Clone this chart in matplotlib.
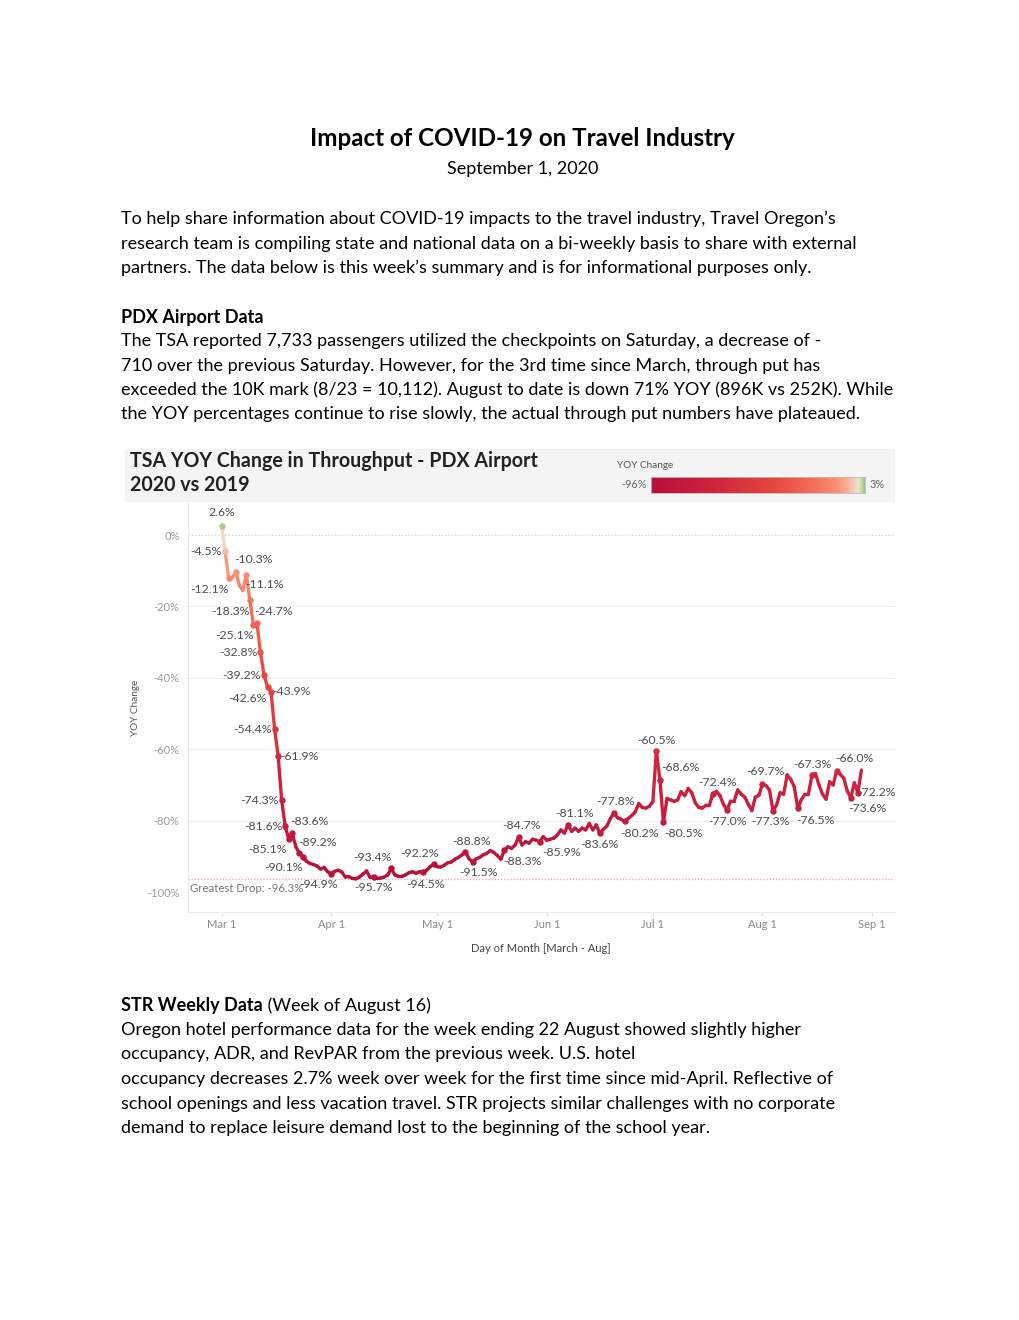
import numpy as np
import pandas as pd
import matplotlib
matplotlib.use('Agg')
import matplotlib.pyplot as plt
import matplotlib.dates as mdates
from matplotlib.collections import LineCollection
from matplotlib.colors import LinearSegmentedColormap, TwoSlopeNorm
from matplotlib.patches import Rectangle

plt.rcParams['font.family'] = ['Lato', 'DejaVu Sans']

# daily YOY change in TSA throughput at PDX, starting 1 March 2020 (%)
yoy = [
    2.6, -4.5, -12.1, -12.0, -10.3, -14.0, -15.5, -11.1, -18.3, -25.1,
    -24.7, -32.8, -39.2, -42.6, -43.9, -54.4, -61.9, -74.3, -81.6, -85.1,
    -83.6, -87.3, -89.2, -90.1, -91.4, -92.0, -92.3, -92.7, -93.6, -93.1,
    -94.3, -94.9, -94.2, -93.9, -94.4, -95.8, -95.7, -96.2, -96.3, -95.8,
    -95.0, -94.1, -95.9, -95.7, -96.2, -96.1, -95.8, -95.2, -93.4, -95.2,
    -95.6, -95.6, -95.2, -94.6, -94.3, -94.8, -94.3, -94.5, -93.9, -92.9,
    -92.2, -92.9, -93.0, -92.5, -91.8, -91.6, -90.8, -90.3, -89.6, -88.8,
    -90.7, -91.5, -90.7, -90.3, -89.6, -89.2, -88.4, -88.9, -89.8, -90.8,
    -88.3, -87.3, -87.8, -86.9, -84.7, -86.8, -85.9, -86.3, -85.2, -85.5,
    -85.9, -84.5, -85.5, -85.2, -84.9, -84.0, -82.6, -83.5, -81.1, -83.0,
    -82.1, -83.0, -82.1, -82.6, -80.8, -82.6, -81.2, -83.6, -82.4, -81.5,
    -79.4, -77.8, -79.2, -79.6, -80.2, -79.4, -78.6, -77.6, -75.2, -76.3,
    -76.5, -76.0, -74.7, -60.5, -68.6, -80.5, -73.8, -74.2, -74.6, -74.2,
    -71.9, -73.0, -71.0, -72.2, -75.0, -76.3, -76.5, -75.7, -75.7, -72.4,
    -71.8, -73.0, -75.5, -77.0, -74.5, -74.5, -71.4, -72.6, -73.4, -75.4,
    -77.2, -73.4, -72.9, -69.7, -70.2, -71.4, -77.3, -75.6, -72.2, -72.6,
    -67.2, -68.4, -70.5, -76.5, -74.1, -72.6, -72.6, -67.3, -66.8, -70.0,
    -72.6, -74.0, -69.1, -70.0, -66.0, -67.0, -68.1, -71.7, -73.6, -69.4,
    -72.2, -65.8,
]
dates = pd.date_range('2020-03-01', periods=len(yoy), freq='D')
greatest_drop = min(yoy)

# which points carry a value label (index into yoy)
labelled = [0, 1, 2, 4, 7, 8, 10, 9, 11, 12, 13, 14, 15, 16, 17, 18, 20, 19,
            22, 23, 31, 48, 43, 60, 57, 69, 71, 84, 80, 98, 90, 111, 107, 114,
            123, 124, 125, 139, 143, 153, 156, 167, 163, 174, 180, 178]

# label placement offsets in pixels (dx, dy), same order as `labelled`
label_offsets = [
    (0, 13), (-19, 0), (-19, -11), (18, 12), (18, -10), (-19, -11), (17, 12),
    (-19, -11), (-22, 0), (-23, 0), (-20, -11), (20, 0), (-22, 0), (21, 0),
    (-22, 0), (-22, 0), (17, 12), (-21, -11), (18, 11), (-19, -11),
    (-13, -11), (-19, 11), (0, -11), (-14, 11), (2, -12), (6, 11), (6, -11),
    (3, 12), (18, -11), (6, 11), (22, -11), (2, 11), (0, -11), (15, -12),
    (0, 11), (20, 12), (20, -11), (5, 11), (0, -12), (3, 12), (-3, -11),
    (0, 11), (18, -12), (18, 12), (19, 0), (17, -11),
]

month_starts = pd.date_range('2020-03-01', '2020-09-01', freq='MS')
y_ticks = [0, -20, -40, -60, -80, -100]

title_lines = ['Impact of COVID-19 on Travel Industry', 'September 1, 2020']
intro_lines = [
    'To help share information about COVID-19 impacts to the travel industry, Travel Oregon\u2019s',
    'research team is compiling state and national data on a bi-weekly basis to share with external',
    'partners. The data below is this week\u2019s summary and is for informational purposes only.',
]
pdx_heading = 'PDX Airport Data'
pdx_lines = [
    'The TSA reported 7,733 passengers utilized the checkpoints on Saturday, a decrease of -',
    '710 over the previous Saturday. However, for the 3rd time since March, through put has',
    'exceeded the 10K mark (8/23 = 10,112). August to date is down 71% YOY (896K vs 252K). While',
    'the YOY percentages continue to rise slowly, the actual through put numbers have plateaued.',
]
str_heading = 'STR Weekly Data'
str_sub = ' (Week of August 16)'
str_lines = [
    'Oregon hotel performance data for the week ending 22 August showed slightly higher',
    'occupancy, ADR, and RevPAR from the previous week. U.S. hotel',
    'occupancy decreases 2.7% week over week for the first time since mid-April. Reflective of',
    'school openings and less vacation travel. STR projects similar challenges with no corporate',
    'demand to replace leisure demand lost to the beginning of the school year.',
]

W, H = 1020, 1320
fig = plt.figure(figsize=(W / 100, H / 100), dpi=100)
fig.patch.set_facecolor('white')


def ftext(x, y, s, **kw):
    kw.setdefault('va', 'center')
    return fig.text(x / W, 1 - y / H, s, **kw)


def fbox(x0, y0, x1, y1):
    return [x0 / W, 1 - y1 / H, (x1 - x0) / W, (y1 - y0) / H]


# page text
body = 13.0
ftext(522, 138, title_lines[0], ha='center', fontsize=17.4, fontweight='bold')
ftext(523, 169, title_lines[1], ha='center', fontsize=body)
for i, s in enumerate(intro_lines):
    ftext(121, 219 + i * 24.5, s, fontsize=body)
ftext(121, 317, pdx_heading, fontsize=body, fontweight='bold')
for i, s in enumerate(pdx_lines):
    ftext(121, 341 + i * 24.5, s, fontsize=body)
head = ftext(121, 1006, str_heading, fontsize=body, fontweight='bold')
for i, s in enumerate(str_lines):
    ftext(121, 1030 + i * 24.5, s, fontsize=body)

# Tableau panel header (behind everything else)
fig.patches.append(Rectangle((125 / W, 1 - 502 / H), 770 / W, 53 / H,
                             transform=fig.transFigure, facecolor='#f4f4f4',
                             edgecolor='none', zorder=-5))
ftext(130, 461, 'TSA YOY Change in Throughput - PDX Airport', fontsize=14.1,
      fontweight='bold', color='#222222')
ftext(130, 485, '2020 vs 2019', fontsize=14.1, fontweight='bold', color='#222222')

# colour scale
cmap = LinearSegmentedColormap.from_list('yoy', [
    (0.0, '#b8103a'), (0.15, '#cf243e'), (0.3, '#e8473f'), (0.4, '#f4735a'),
    (0.45, '#f89273'), (0.475, '#fbb29b'), (0.5, '#ece2d2'), (0.75, '#c4dcae'),
    (1.0, '#9ac581')])
norm = TwoSlopeNorm(vmin=-96, vcenter=0, vmax=3)

ftext(617, 465, 'YOY Change', fontsize=7.2, color='#555555')
ftext(647, 485, '-96%', ha='right', fontsize=7.8, color='#666666')
ftext(869, 485, '3%', ha='left', fontsize=7.8, color='#666666')
cax = fig.add_axes(fbox(651, 477, 865, 493))
cax.set_zorder(2)
cax.imshow(np.linspace(-96, 3, 300)[None, :], aspect='auto', cmap=cmap, norm=norm,
           extent=(-96, 3, 0, 1))
cax.set_xticks([])
cax.set_yticks([])
for sp in cax.spines.values():
    sp.set_color('#bbbbbb')
    sp.set_linewidth(0.6)

# main chart
ax = fig.add_axes(fbox(188, 503, 895, 912))
x = mdates.date2num(dates)
y = np.array(yoy)
pts = np.column_stack([x, y])
segs = np.stack([pts[:-1], pts[1:]], axis=1)
lc = LineCollection(segs, colors=cmap(norm((y[:-1] + y[1:]) / 2)), linewidths=2.4,
                    capstyle='round', joinstyle='round', zorder=3)
ax.add_collection(lc)

for i, (dx, dy) in zip(labelled, label_offsets):
    ax.plot(x[i], y[i], 'o', ms=3.6, color=cmap(norm(y[i])), zorder=4)
    ax.annotate(f'{yoy[i]:.1f}%', (x[i], y[i]), xytext=(dx, dy),
                textcoords='offset pixels', ha='center', va='center',
                fontsize=8.8, color='#4d4d4d', zorder=5)

ax.axhline(0, color='#c8c8c8', lw=0.8, ls=(0, (1, 2)), zorder=1)
for v in y_ticks[1:-1]:
    ax.axhline(v, color='#eeeeee', lw=0.8, zorder=0)
ax.axhline(greatest_drop, color='#e8a3b5', lw=0.9, ls=(0, (1, 1.5)), zorder=1)
ax.text(mdates.date2num(pd.Timestamp('2020-02-21')), greatest_drop - 2.6,
        f'Greatest Drop: {greatest_drop:.1f}%', fontsize=8.2, color='#777777',
        va='center', ha='left')

start = mdates.date2num(pd.Timestamp('2020-03-01'))
ax.set_xlim(start - 9.5, start + 190.5)
ax.set_ylim(-105.6, 9)
ax.set_yticks(y_ticks)
ax.set_yticklabels([f'{v}%' for v in y_ticks])
ax.set_xticks(mdates.date2num(month_starts))
ax.set_xticklabels([f'{d:%b} 1' for d in month_starts])
ax.tick_params(axis='y', length=0, labelsize=8, labelcolor='#a09a94', pad=6)
ax.tick_params(axis='x', length=3, color='#e2e2e2', labelsize=8,
               labelcolor='#8a8a8a', pad=2)
for side in ['top', 'right']:
    ax.spines[side].set_visible(False)
for side in ['left', 'bottom']:
    ax.spines[side].set_color('#ebebeb')
    ax.spines[side].set_linewidth(0.8)

ftext(135, 708, 'YOY Change', rotation=90, ha='center', fontsize=7.2, color='#555555')
ftext(541, 948, 'Day of Month [March - Aug]', ha='center', fontsize=8, color='#444444')

# bold heading followed by regular text on the same line
fig.canvas.draw()
bb = head.get_window_extent()
fig.text(bb.x1 / W, 1 - 1006 / H, str_sub, fontsize=body, va='center')

fig.savefig('out.png', dpi=100)
